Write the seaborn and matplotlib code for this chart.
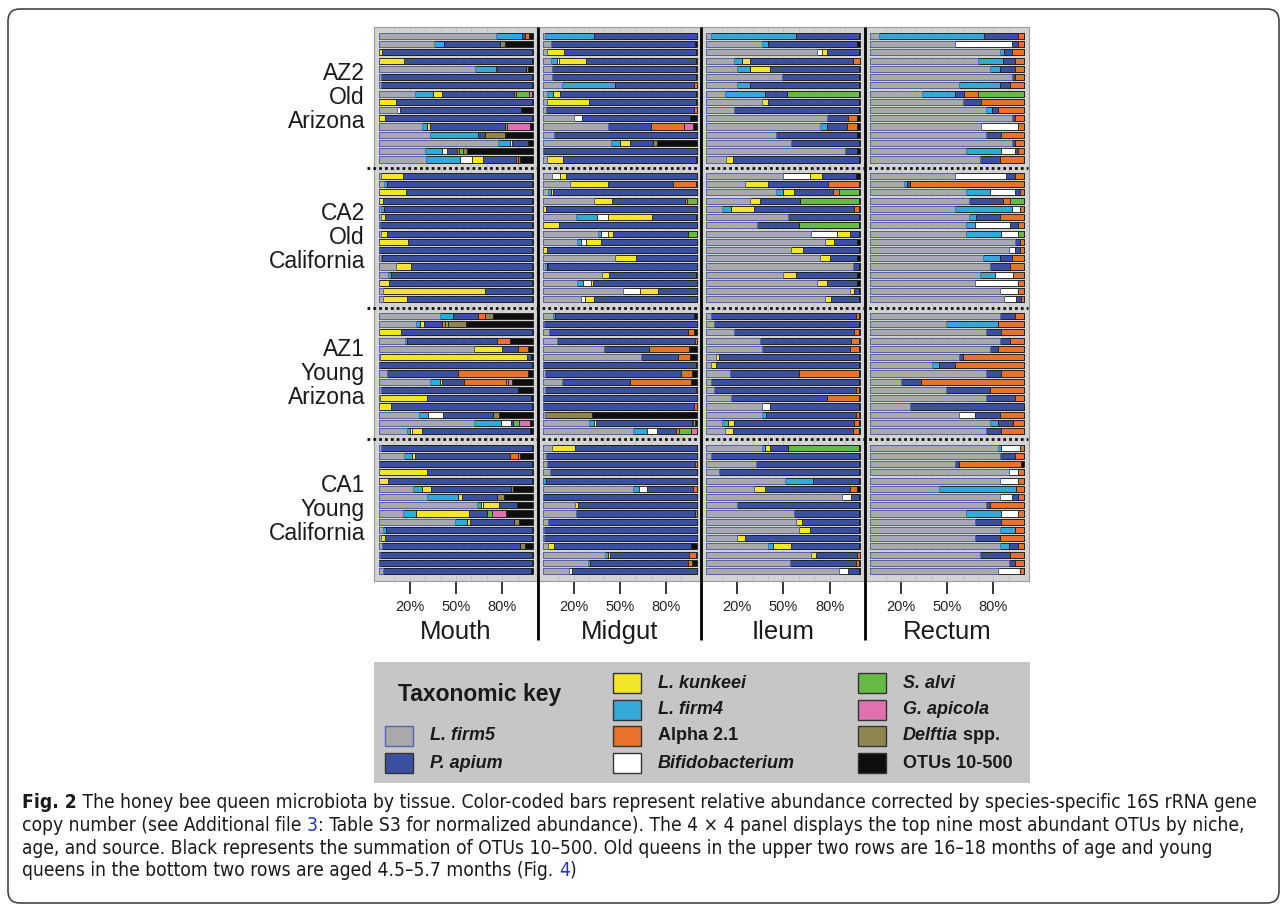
import numpy as np
import matplotlib
matplotlib.use("Agg")
import matplotlib.pyplot as plt
import seaborn as sns
from matplotlib import font_manager as fm
from matplotlib import transforms as mtrans
from matplotlib.patches import Rectangle, FancyBboxPatch
from matplotlib.lines import Line2D

W, H = 1287, 908

# ---------------- data ----------------
taxa = ["L. firm5", "L. firm4", "Bifidobacterium", "L. kunkeei", "P. apium",
        "Alpha 2.1", "S. alvi", "G. apicola", "Delftia spp.", "OTUs 10-500"]
tissues = ["Mouth", "Midgut", "Ileum", "Rectum"]
group_names = [("AZ2", "Old", "Arizona"), ("CA2", "Old", "California"),
               ("AZ1", "Young", "Arizona"), ("CA1", "Young", "California")]
tick_vals = [0.2, 0.5, 0.8]
tick_labels = ["20%", "50%", "80%"]

# columns: firm5, firm4, bifido, kunkeei, apium, alpha2.1, s.alvi, g.apicola, delftia, otus
mouth_az2 = [
    [.76, .17, 0, 0, .015, .03, 0, 0, 0, .025],
    [.356, .065, 0, 0, .367, 0, 0, 0, .028, .184],
    [0, 0, 0, .022, .97, 0, 0, 0, 0, .008],
    [0, 0, 0, .162, .83, 0, 0, 0, 0, .008],
    [.622, .136, .01, 0, .188, 0, 0, 0, .013, .03],
    [.01, 0, 0, 0, .98, 0, 0, 0, 0, .01],
    [.015, 0, 0, 0, .975, 0, 0, 0, 0, .01],
    [.233, .119, 0, .056, .465, .017, .082, .022, 0, .006],
    [0, 0, 0, .11, .88, 0, 0, 0, 0, .01],
    [.12, 0, .015, 0, .785, 0, 0, 0, 0, .08],
    [0, 0, 0, .04, .955, 0, 0, 0, 0, .005],
    [.276, .033, 0, .022, .487, 0, .013, .147, 0, .022],
    [.33, .315, 0, 0, .045, 0, 0, 0, .125, .185],
    [.773, .076, .013, 0, .105, 0, 0, 0, 0, .033],
    [.3, .112, .03, 0, .065, .013, .022, 0, .032, .426],
    [.305, .22, .076, .071, .22, .009, 0, 0, .013, .086],
]
mouth_ca2 = [
    [.01, 0, 0, .143, .84, 0, 0, 0, 0, .007],
    [.03, .02, 0, 0, .94, 0, 0, 0, 0, .01],
    [0, 0, 0, .175, .82, 0, 0, 0, 0, .005],
    [0, 0, 0, .028, .965, 0, 0, 0, 0, .007],
    [.013, .02, 0, 0, .957, 0, 0, 0, 0, .01],
    [.01, 0, 0, .028, .955, 0, 0, 0, 0, .007],
    [.005, 0, 0, 0, .985, 0, 0, 0, 0, .01],
    [.01, 0, 0, .04, .94, 0, 0, 0, 0, .01],
    [0, 0, 0, .19, .8, 0, 0, 0, 0, .01],
    [0, 0, 0, 0, .99, 0, 0, 0, 0, .01],
    [.013, 0, .005, 0, .977, 0, 0, 0, 0, .005],
    [.11, 0, 0, .1, .782, 0, 0, 0, 0, .008],
    [.06, .015, 0, 0, .915, 0, 0, 0, 0, .01],
    [0, 0, 0, .067, .927, 0, 0, 0, 0, .006],
    [.028, 0, 0, .663, .302, 0, 0, 0, 0, .007],
    [.028, 0, 0, .151, .814, 0, 0, 0, 0, .007],
]
mouth_az1 = [
    [.395, .086, 0, 0, .16, .047, 0, 0, .054, .258],
    [.24, .026, 0, .026, .114, .022, .017, 0, .119, .436],
    [0, 0, 0, .143, .85, 0, 0, 0, 0, .007],
    [.168, .015, 0, 0, .58, .086, 0, 0, 0, .151],
    [.616, 0, 0, .184, .104, .065, 0, 0, 0, .031],
    [.005, 0, 0, .955, .025, 0, 0, 0, 0, .015],
    [0, 0, 0, 0, .99, 0, 0, 0, 0, .01],
    [.05, 0, 0, 0, .46, .455, 0, 0, 0, .035],
    [.33, .069, 0, .013, .14, .27, .015, .026, 0, .137],
    [.01, 0, 0, 0, .89, 0, 0, 0, 0, .1],
    [.005, 0, 0, .307, .676, 0, 0, 0, 0, .012],
    [0, 0, 0, .078, .915, 0, 0, 0, 0, .007],
    [.259, .06, .097, 0, .325, 0, 0, 0, .039, .22],
    [.618, .173, .065, 0, .015, 0, .037, .071, 0, .021],
    [.184, .017, .01, .067, .7, 0, 0, 0, 0, .022],
]
mouth_ca1 = [
    [.01, 0, 0, 0, .98, 0, 0, 0, 0, .01],
    [.16, .054, 0, .022, .616, .05, 0, .01, 0, .088],
    [0, 0, 0, 0, .99, 0, 0, 0, 0, .01],
    [0, 0, 0, .313, .68, 0, 0, 0, 0, .007],
    [0, 0, 0, .06, .933, 0, 0, 0, 0, .007],
    [.218, .058, 0, .06, .518, 0, 0, 0, .013, .133],
    [.313, .2, 0, .026, .229, 0, 0, 0, .043, .189],
    [.633, .032, .01, .101, .117, 0, 0, 0, 0, .107],
    [.158, .082, 0, .341, .123, 0, .032, .086, 0, .178],
    [.492, .082, 0, .017, .285, 0, 0, 0, .032, .092],
    [.028, .015, 0, 0, .947, 0, 0, 0, 0, .01],
    [.01, 0, 0, .032, .948, 0, 0, 0, 0, .01],
    [.02, 0, 0, 0, .895, 0, 0, 0, .032, .053],
    [.008, 0, 0, 0, .982, 0, 0, 0, 0, .01],
    [0, 0, 0, 0, .99, 0, 0, 0, 0, .01],
    [.028, 0, 0, 0, .956, 0, 0, 0, 0, .016],
]

midgut_az2 = [
    [.015, .315, 0, 0, .67, 0, 0, 0, 0, 0],
    [.055, 0, 0, 0, .935, 0, 0, 0, 0, .01],
    [.026, 0, 0, .115, .853, 0, 0, 0, 0, .006],
    [.052, .039, .015, .175, .712, 0, 0, 0, 0, .007],
    [.058, 0, 0, 0, .935, 0, 0, 0, 0, .007],
    [.063, 0, 0, 0, .93, 0, 0, 0, 0, .007],
    [.128, .342, 0, 0, .515, .015, 0, 0, 0, 0],
    [.026, .039, 0, .048, .88, 0, 0, 0, 0, .007],
    [.026, 0, 0, .275, .692, 0, 0, 0, 0, .007],
    [.022, 0, 0, 0, .963, .015, 0, 0, 0, 0],
    [.206, 0, .048, 0, .703, 0, 0, 0, 0, .043],
    [.422, 0, 0, 0, .28, .216, 0, .06, 0, .022],
    [.074, 0, 0, 0, .926, 0, 0, 0, 0, 0],
    [.444, .058, 0, .065, .152, 0, 0, 0, .022, .259],
    [.005, 0, 0, 0, .995, 0, 0, 0, 0, 0],
    [.03, 0, 0, .1, .863, 0, 0, 0, 0, .007],
]
midgut_ca2 = [
    [.058, 0, .054, .039, .849, 0, 0, 0, 0, 0],
    [.18, 0, 0, .247, .418, .148, 0, 0, 0, .007],
    [.037, .015, 0, .017, .931, 0, 0, 0, 0, 0],
    [.333, 0, 0, .119, .473, .01, .065, 0, 0, 0],
    [.005, 0, 0, .017, .978, 0, 0, 0, 0, 0],
    [.214, .141, .071, .286, .281, 0, 0, 0, 0, .007],
    [0, 0, 0, .106, .894, 0, 0, 0, 0, 0],
    [.357, .022, .048, .026, .493, 0, .054, 0, 0, 0],
    [.221, .026, .035, .095, .623, 0, 0, 0, 0, 0],
    [.005, 0, 0, .022, .973, 0, 0, 0, 0, 0],
    [.47, 0, 0, .134, .396, 0, 0, 0, 0, 0],
    [.015, .01, 0, .012, .963, 0, 0, 0, 0, 0],
    [.383, 0, 0, .048, .563, 0, 0, 0, 0, .006],
    [.221, .043, .048, .017, .671, 0, 0, 0, 0, 0],
    [.519, 0, .113, .115, .253, 0, 0, 0, 0, 0],
    [.249, 0, .026, .061, .664, 0, 0, 0, 0, 0],
]
midgut_az1 = [
    [.065, .015, 0, 0, .905, 0, 0, 0, 0, .015],
    [.009, 0, 0, 0, .991, 0, 0, 0, 0, 0],
    [.04, 0, 0, 0, .906, .039, 0, 0, 0, .015],
    [.09, 0, 0, 0, .9, .01, 0, 0, 0, 0],
    [.397, 0, 0, 0, .29, .262, 0, 0, .01, .041],
    [.64, 0, 0, 0, .237, .08, 0, 0, 0, .043],
    [0, 0, 0, 0, .995, 0, 0, 0, 0, .005],
    [.018, 0, 0, 0, .88, .074, 0, 0, 0, .028],
    [.128, 0, 0, 0, .437, .396, 0, 0, 0, .039],
    [.015, 0, 0, 0, .978, .007, 0, 0, 0, 0],
    [0, 0, 0, 0, 1.0, 0, 0, 0, 0, 0],
    [0, 0, 0, 0, .985, .015, 0, 0, 0, 0],
    [.012, 0, 0, 0, 0, 0, 0, 0, .305, .683],
    [.3, .032, .017, 0, .62, .005, .015, 0, 0, .011],
    [.584, .091, .069, 0, .118, .022, .076, .04, 0, 0],
]
midgut_ca1 = [
    [.06, 0, 0, .15, .79, 0, 0, 0, 0, 0],
    [.02, 0, 0, 0, .98, 0, 0, 0, 0, 0],
    [.028, 0, 0, 0, .962, .01, 0, 0, 0, 0],
    [.048, 0, 0, 0, .952, 0, 0, 0, 0, 0],
    [.005, .017, 0, 0, .978, 0, 0, 0, 0, 0],
    [.589, .039, .052, 0, .298, .022, 0, 0, 0, 0],
    [0, 0, 0, 0, 1.0, 0, 0, 0, 0, 0],
    [.21, 0, 0, .017, .773, 0, 0, 0, 0, 0],
    [.214, 0, 0, 0, .773, 0, 0, 0, .013, 0],
    [.035, 0, 0, 0, .965, 0, 0, 0, 0, 0],
    [.011, 0, 0, 0, .989, 0, 0, 0, 0, 0],
    [.01, 0, 0, 0, .99, 0, 0, 0, 0, 0],
    [.032, 0, 0, .043, .888, 0, 0, 0, 0, .037],
    [.405, .017, 0, .017, .513, .041, 0, 0, 0, .007],
    [.292, .015, 0, 0, .633, .026, 0, 0, 0, .034],
    [.171, 0, .022, 0, .807, 0, 0, 0, 0, 0],
]

ileum_az2 = [
    [.03, .55, 0, 0, .41, 0, 0, 0, 0, .01],
    [.36, .04, 0, 0, .58, 0, 0, 0, 0, .02],
    [.72, 0, .03, .03, .21, 0, 0, 0, 0, .01],
    [.18, .05, 0, .05, .67, .05, 0, 0, 0, 0],
    [.2, .08, 0, .13, .58, 0, 0, 0, 0, .01],
    [.49, 0, 0, 0, .5, 0, 0, 0, 0, .01],
    [.2, .08, 0, 0, .71, 0, 0, 0, 0, .01],
    [.12, .26, 0, 0, .14, 0, .47, 0, 0, .01],
    [.36, 0, 0, .04, .59, 0, 0, 0, 0, .01],
    [.18, 0, 0, 0, .81, 0, 0, 0, 0, .01],
    [.78, 0, 0, 0, .14, .06, 0, 0, 0, .02],
    [.74, .04, 0, 0, .13, .07, 0, 0, 0, .02],
    [.45, 0, 0, 0, .53, 0, 0, 0, 0, .02],
    [.55, 0, 0, 0, .44, 0, 0, 0, 0, .01],
    [.9, 0, 0, 0, .08, 0, 0, 0, 0, .02],
    [.13, 0, 0, .04, .82, 0, 0, 0, 0, .01],
]
ileum_ca2 = [
    [.5, 0, .17, .08, .22, 0, 0, 0, 0, .03],
    [.25, 0, 0, .15, .39, .2, 0, 0, 0, .01],
    [.45, .05, 0, .07, .25, .04, .13, 0, 0, .01],
    [.28, 0, 0, .07, .26, 0, .38, 0, 0, .01],
    [.1, .06, 0, .15, .65, .03, 0, 0, 0, .01],
    [.53, 0, 0, 0, .46, 0, 0, 0, 0, .01],
    [.33, 0, 0, 0, .27, 0, .39, 0, 0, .01],
    [.68, 0, .17, .08, .06, 0, 0, 0, 0, .01],
    [.77, 0, 0, .06, .15, 0, 0, 0, 0, .02],
    [.55, 0, 0, .08, .36, 0, 0, 0, 0, .01],
    [.74, 0, 0, .06, .18, 0, 0, 0, 0, .02],
    [.95, 0, 0, 0, .04, 0, 0, 0, 0, .01],
    [.5, 0, 0, .08, .4, 0, 0, 0, 0, .02],
    [.72, 0, 0, .06, .2, 0, 0, 0, 0, .02],
    [.93, 0, 0, .03, .03, 0, 0, 0, 0, .01],
    [.77, 0, 0, .04, .18, 0, 0, 0, 0, .01],
]
ileum_az1 = [
    [.03, 0, 0, 0, .94, .02, 0, 0, 0, .01],
    [.05, 0, 0, 0, .94, 0, 0, 0, 0, .01],
    [.18, 0, 0, 0, .78, .03, 0, 0, 0, .01],
    [.35, 0, 0, 0, .59, .05, 0, 0, 0, .01],
    [.36, 0, 0, 0, .57, .06, 0, 0, 0, .01],
    [.06, 0, 0, .02, .91, 0, 0, 0, 0, .01],
    [.03, 0, 0, .03, .93, 0, 0, 0, 0, .01],
    [.15, 0, 0, 0, .45, .39, 0, 0, 0, .01],
    [.03, 0, 0, 0, .96, 0, 0, 0, 0, .01],
    [.05, 0, 0, 0, .92, .02, 0, 0, 0, .01],
    [.16, 0, 0, 0, .62, .21, 0, 0, 0, .01],
    [.36, 0, .05, 0, .58, 0, 0, 0, 0, .01],
    [.36, .03, 0, 0, .58, .02, 0, 0, 0, .01],
    [.1, .04, 0, .04, .78, .03, 0, 0, 0, .01],
    [.12, 0, 0, .05, .78, .04, 0, 0, 0, .01],
]
ileum_ca1 = [
    [.36, .02, 0, .03, .12, 0, .46, 0, 0, .01],
    [.03, 0, 0, 0, .96, 0, 0, 0, 0, .01],
    [.32, 0, 0, 0, .67, 0, 0, 0, 0, .01],
    [.08, 0, 0, 0, .91, 0, 0, 0, 0, .01],
    [.51, .18, 0, 0, .3, 0, 0, 0, 0, .01],
    [.31, 0, 0, .07, .55, .05, 0, 0, 0, .02],
    [.88, 0, .06, 0, .05, 0, 0, 0, 0, .01],
    [.2, 0, 0, 0, .79, 0, 0, 0, 0, .01],
    [.57, 0, 0, 0, .42, 0, 0, 0, 0, .01],
    [.58, 0, 0, .04, .37, 0, 0, 0, 0, .01],
    [.6, 0, 0, .07, .32, 0, 0, 0, 0, .01],
    [.2, 0, 0, .05, .74, 0, 0, 0, 0, .01],
    [.4, .03, 0, .12, .44, 0, 0, 0, 0, .01],
    [.68, 0, 0, .03, .27, .02, 0, 0, 0, 0],
    [.54, 0, 0, 0, .43, .02, 0, 0, 0, .01],
    [.86, 0, .056, 0, .07, .01, 0, 0, 0, 0],
]

rectum_az2 = [
    [.06, .68, 0, 0, .22, .04, 0, 0, 0, 0],
    [.55, 0, .37, 0, .04, .04, 0, 0, 0, 0],
    [.84, .03, 0, 0, .05, .08, 0, 0, 0, 0],
    [.7, .16, 0, 0, .08, .06, 0, 0, 0, 0],
    [.78, .06, 0, 0, .1, .06, 0, 0, 0, 0],
    [.92, 0, 0, 0, .02, .06, 0, 0, 0, 0],
    [.58, .26, 0, 0, .07, .09, 0, 0, 0, 0],
    [.34, .21, 0, 0, .06, .09, .3, 0, 0, 0],
    [.6, 0, 0, 0, .12, .28, 0, 0, 0, 0],
    [.75, .04, 0, 0, .04, .17, 0, 0, 0, 0],
    [.92, 0, 0, 0, .02, .06, 0, 0, 0, 0],
    [.72, 0, .24, 0, 0, .04, 0, 0, 0, 0],
    [.75, 0, 0, 0, .1, .15, 0, 0, 0, 0],
    [.92, 0, 0, 0, .02, .06, 0, 0, 0, 0],
    [.62, .23, .09, 0, .02, .04, 0, 0, 0, 0],
    [.71, 0, 0, 0, .13, .16, 0, 0, 0, 0],
]
rectum_ca2 = [
    [.55, 0, .33, 0, .06, .06, 0, 0, 0, 0],
    [.22, .02, 0, 0, .02, .74, 0, 0, 0, 0],
    [.62, .16, .16, 0, .03, .03, 0, 0, 0, 0],
    [.64, 0, 0, 0, .22, .05, .09, 0, 0, 0],
    [.55, .37, .05, 0, 0, .03, 0, 0, 0, 0],
    [.64, .05, 0, 0, .15, .16, 0, 0, 0, 0],
    [.62, .06, .23, 0, .05, .04, 0, 0, 0, 0],
    [.62, .23, .11, 0, 0, 0, .04, 0, 0, 0],
    [.94, 0, 0, 0, .03, .03, 0, 0, 0, 0],
    [.9, 0, .04, 0, .03, .03, 0, 0, 0, 0],
    [.73, .11, 0, 0, .08, .08, 0, 0, 0, 0],
    [.78, 0, 0, 0, .13, .09, 0, 0, 0, 0],
    [.71, .1, .12, 0, 0, .07, 0, 0, 0, 0],
    [.68, 0, .28, 0, 0, .04, 0, 0, 0, 0],
    [.84, 0, .12, 0, 0, .04, 0, 0, 0, 0],
    [.87, 0, .08, 0, .03, .02, 0, 0, 0, 0],
]
rectum_az1 = [
    [.84, 0, 0, 0, .1, .06, 0, 0, 0, 0],
    [.49, .34, 0, 0, 0, .17, 0, 0, 0, 0],
    [.75, 0, 0, 0, .1, .15, 0, 0, 0, 0],
    [.84, 0, 0, 0, .07, .09, 0, 0, 0, 0],
    [.78, 0, 0, 0, .05, .17, 0, 0, 0, 0],
    [.58, 0, 0, 0, .02, .4, 0, 0, 0, 0],
    [.4, .05, 0, 0, .1, .45, 0, 0, 0, 0],
    [.75, 0, 0, 0, .1, .15, 0, 0, 0, 0],
    [.2, 0, 0, 0, .13, .67, 0, 0, 0, 0],
    [.49, 0, 0, 0, .29, .22, 0, 0, 0, 0],
    [.75, 0, 0, 0, .19, .06, 0, 0, 0, 0],
    [.26, 0, 0, 0, .74, 0, 0, 0, 0, 0],
    [.58, 0, .1, 0, .16, .16, 0, 0, 0, 0],
    [.78, .05, 0, 0, .1, .07, 0, 0, 0, 0],
    [.75, 0, 0, 0, .1, .15, 0, 0, 0, 0],
]
rectum_ca1 = [
    [.83, .02, .12, 0, 0, .03, 0, 0, 0, 0],
    [.84, 0, 0, 0, .1, .06, 0, 0, 0, 0],
    [.55, 0, 0, 0, .03, .4, 0, 0, 0, .02],
    [.9, 0, .06, 0, 0, .04, 0, 0, 0, 0],
    [.84, 0, .12, 0, 0, .04, 0, 0, 0, 0],
    [.45, .5, 0, 0, 0, .05, 0, 0, 0, 0],
    [.84, 0, .08, 0, .04, .04, 0, 0, 0, 0],
    [.75, 0, 0, 0, .03, .22, 0, 0, 0, 0],
    [.62, .23, .11, 0, 0, .04, 0, 0, 0, 0],
    [.68, 0, 0, 0, .17, .15, 0, 0, 0, 0],
    [.84, .1, 0, 0, 0, .06, 0, 0, 0, 0],
    [.68, 0, 0, 0, .16, .16, 0, 0, 0, 0],
    [.84, .06, 0, 0, .06, .04, 0, 0, 0, 0],
    [.71, 0, 0, 0, .2, .09, 0, 0, 0, 0],
    [.9, 0, 0, 0, .04, .06, 0, 0, 0, 0],
    [.83, 0, .14, 0, 0, .03, 0, 0, 0, 0],
]

tissue_data = {
    "Mouth": [mouth_az2, mouth_ca2, mouth_az1, mouth_ca1],
    "Midgut": [midgut_az2, midgut_ca2, midgut_az1, midgut_ca1],
    "Ileum": [ileum_az2, ileum_ca2, ileum_az1, ileum_ca1],
    "Rectum": [rectum_az2, rectum_ca2, rectum_az1, rectum_ca1],
}

# ---------------- styling ----------------
fill = {"L. firm5": "#a9a9a9", "L. firm4": "#35a8da", "Bifidobacterium": "#ffffff",
        "L. kunkeei": "#f3e52a", "P. apium": "#3b4f9f", "Alpha 2.1": "#e8712b",
        "S. alvi": "#67b946", "G. apicola": "#e070ae", "Delftia spp.": "#8d8650",
        "OTUs 10-500": "#0e0e0e"}
edge = {k: "#1e1e1e" for k in taxa}
edge["L. firm5"] = "#5565b5"

sns.set_theme(style="white")
plt.rcParams["font.family"] = ["Liberation Sans", "DejaVu Sans"]


def condensed_family():
    for fam in ["Liberation Sans Narrow", "Noto Sans", "Open Sans", "DejaVu Sans", "Roboto"]:
        try:
            p = fm.findfont(fm.FontProperties(family=fam, stretch="condensed"),
                            fallback_to_default=False)
        except Exception:
            continue
        low = p.lower()
        if "narrow" in low or "condensed" in low:
            return fam
    return "Liberation Sans"


cap_family = [condensed_family(), "DejaVu Sans"]

fig = plt.figure(figsize=(W / 100, H / 100), dpi=100)
fig.patch.set_facecolor("white")

# row slots: groups separated by one empty slot
group_start = [0, 17, 34, 50]
positions = np.concatenate([np.arange(len(g)) + s
                            for g, s in zip(tissue_data["Mouth"], group_start)])

panel_top, panel_bot = 27, 581
left_px = [374.0, 537.7, 701.4, 865.1]
ax_w = 163.4
axes = []
for ti, tissue in enumerate(tissues):
    ax = fig.add_axes([left_px[ti] / W, 1 - panel_bot / H, ax_w / W, (panel_bot - panel_top) / H])
    ax.set_facecolor("#d3d3d3")
    rows = np.array([r for g in tissue_data[tissue] for r in g], dtype=float)
    rows = rows / rows.sum(axis=1, keepdims=True)
    cum = rows.cumsum(axis=1)
    for k in range(len(taxa) - 1, -1, -1):
        sns.barplot(x=cum[:, k], y=positions, orient="h", native_scale=True,
                    color=fill[taxa[k]], edgecolor=edge[taxa[k]], linewidth=0.6,
                    width=0.74, saturation=1, errorbar=None, ax=ax)
    ax.set_xlim(-0.0325, 1.028)
    ax.set_ylim(66.2, -1.09)
    ax.set_xlabel("")
    ax.set_ylabel("")
    ax.set_yticks([])
    ax.set_xticks(tick_vals)
    ax.set_xticklabels(tick_labels)
    ax.set_xticks(np.arange(0.1, 1.0, 0.1), minor=True)
    ax.grid(True, which="both", axis="x", color="#bdbdbd", lw=0.6)
    ax.set_axisbelow(True)
    ax.tick_params(axis="x", which="major", length=9, width=1.1, color="black",
                   direction="out", pad=5, labelsize=10.5, labelcolor="#222222", bottom=True)
    ax.tick_params(axis="x", which="minor", length=0, bottom=False)
    for sp in ax.spines.values():
        sp.set_color("#9a9a9a")
        sp.set_linewidth(0.8)
    axes.append(ax)

# overlay in pixel coordinates
ov = fig.add_axes([0, 0, 1, 1], zorder=5)
ov.set_xlim(0, W)
ov.set_ylim(H, 0)
ov.axis("off")
ov.patch.set_alpha(0)

# separators between tissues
for x in left_px[1:]:
    ov.plot([x, x], [panel_top, 640], color="black", lw=2.0, solid_capstyle="butt")

# dotted group separators (y in data coordinates of the panels)
bt = mtrans.blended_transform_factory(fig.transFigure, axes[0].transData)
for gi in range(1, 4):
    yb = (group_start[gi - 1] + len(tissue_data["Mouth"][gi - 1]) - 1 + group_start[gi]) / 2
    fig.add_artist(Line2D([367 / W, 1028 / W], [yb, yb], transform=bt, color="#111111",
                          lw=2.0, linestyle=(0, (1.0, 1.1)), dash_capstyle="butt", zorder=6))

# group labels
for gi, names in enumerate(group_names):
    yc = group_start[gi] + (len(tissue_data["Mouth"][gi]) - 1) / 2
    for li, s in enumerate(names):
        tr = mtrans.offset_copy(bt, fig=fig, x=0, y=(1 - li) * 24 * 0.72, units="points")
        fig.text(365 / W, yc, s, transform=tr, ha="right", va="center",
                 fontsize=16.5, color="#1a1a1a")

# tissue labels
for ti, tissue in enumerate(tissues):
    ov.text(left_px[ti] + ax_w / 2, 632, tissue, ha="center", va="center",
            fontsize=18.5, color="#1a1a1a")

# ---------------- legend ----------------
lx0, lx1, ly0, ly1 = 374, 1030, 662, 783
ov.add_patch(Rectangle((lx0, ly0), lx1 - lx0, ly1 - ly0, facecolor="#c6c6c6",
                       edgecolor="none", zorder=1))
ov.text(398, 695, "Taxonomic key", ha="left", va="center",
        fontsize=16.5, fontweight="bold", color="#1a1a1a", zorder=3)
row_y = [683, 710, 736, 763]
legend_layout = [
    (385, 2, "L. firm5"), (385, 3, "P. apium"),
    (613, 0, "L. kunkeei"), (613, 1, "L. firm4"), (613, 2, "Alpha 2.1"), (613, 3, "Bifidobacterium"),
    (858, 0, "S. alvi"), (858, 1, "G. apicola"), (858, 2, "Delftia spp."), (858, 3, "OTUs 10-500"),
]
italic_names = {"L. firm5", "P. apium", "L. kunkeei", "L. firm4", "Bifidobacterium",
                "S. alvi", "G. apicola"}
renderer = fig.canvas.get_renderer()


def adv(s, **kw):
    t1 = fig.text(0, 0, s + "x", **kw)
    t2 = fig.text(0, 0, "x", **kw)
    w = t1.get_window_extent(renderer=renderer).width - t2.get_window_extent(renderer=renderer).width
    t1.remove()
    t2.remove()
    return w


for px, ri, name in legend_layout:
    yc = row_y[ri]
    ov.add_patch(Rectangle((px, yc - 10), 28, 20, facecolor=fill[name],
                           edgecolor=edge[name] if name == "L. firm5" else "#333333",
                           lw=1.0, zorder=3))
    kw = dict(fontsize=13, fontweight="bold", color="#1a1a1a")
    tx = px + 45
    if name == "Delftia spp.":
        ov.text(tx, yc, "Delftia", ha="left", va="center", style="italic", zorder=3, **kw)
        w = adv("Delftia", style="italic", **kw)
        ov.text(tx + w, yc, " spp.", ha="left", va="center", zorder=3, **kw)
    else:
        ov.text(tx, yc, name, ha="left", va="center",
                style="italic" if name in italic_names else "normal", zorder=3, **kw)

# ---------------- caption ----------------
cap_lines = [
    [("Fig. 2", "bold", "#1a1a1a"),
     (" The honey bee queen microbiota by tissue. Color-coded bars represent relative abundance corrected by species-specific 16S rRNA gene", "normal", "#1a1a1a")],
    [("copy number (see Additional file ", "normal", "#1a1a1a"), ("3", "normal", "#2233cc"),
     (": Table S3 for normalized abundance). The 4 \u00d7 4 panel displays the top nine most abundant OTUs by niche,", "normal", "#1a1a1a")],
    [("age, and source. Black represents the summation of OTUs 10\u2013500. Old queens in the upper two rows are 16\u201318 months of age and young", "normal", "#1a1a1a")],
    [("queens in the bottom two rows are aged 4.5\u20135.7 months (Fig. ", "normal", "#1a1a1a"),
     ("4", "normal", "#2233cc"), (")", "normal", "#1a1a1a")],
]
cap_kw = dict(family=cap_family, fontstretch="condensed")
base = 12.0
w1 = sum(adv(s, fontsize=base, fontweight=wt, **cap_kw) for s, wt, c in cap_lines[0])
cap_size = base * 1240.0 / w1
cap_y = [803, 825.5, 848, 870.5]
for line, yy in zip(cap_lines, cap_y):
    x = 22
    for s, wt, c in line:
        ov.text(x, yy, s, ha="left", va="center", fontsize=cap_size, fontweight=wt,
                color=c, **cap_kw)
        x += adv(s, fontsize=cap_size, fontweight=wt, **cap_kw)

# outer rounded frame
ov.add_patch(FancyBboxPatch((8, 9), 1271, 894, boxstyle="round,pad=0,rounding_size=12",
                            fill=False, edgecolor="#444444", lw=1.2, zorder=0))

fig.savefig("out.png", dpi=100, facecolor="white")
